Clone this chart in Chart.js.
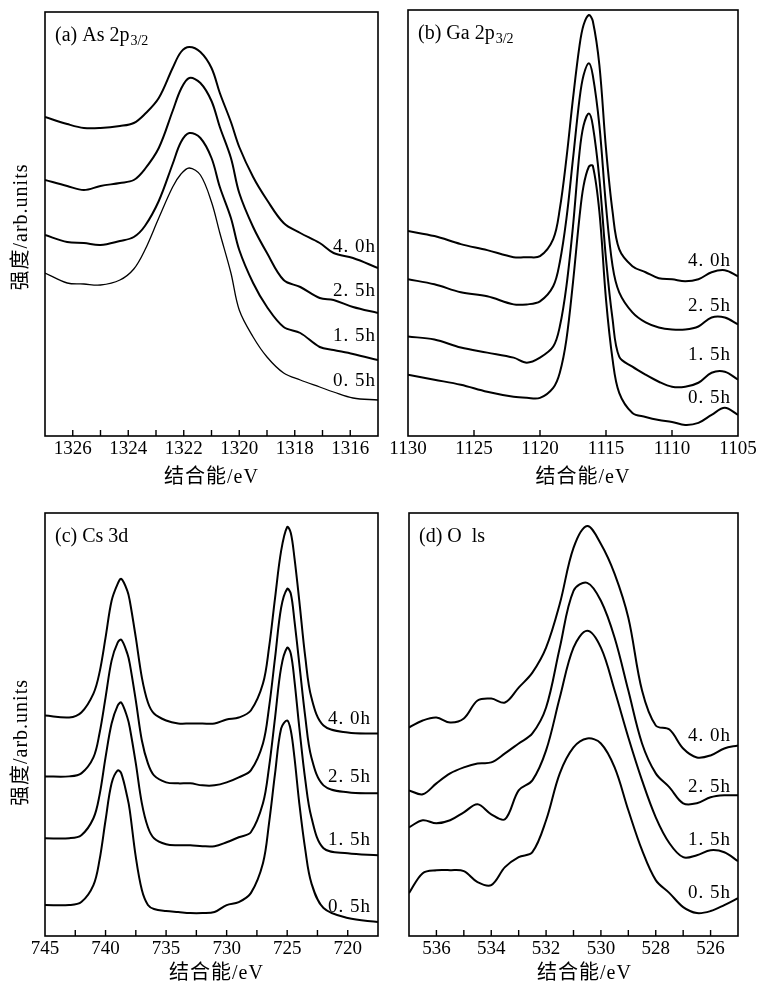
<!DOCTYPE html>
<html>
<head>
<meta charset="utf-8">
<title>XPS spectra</title>
<script src="https://cdn.jsdelivr.net/npm/chart.js@4.4.1/dist/chart.umd.min.js"></script>
<style>
  body { margin: 0; background: #fff; }
  #wrap { position: relative; width: 763px; height: 991px; }
  #wrap canvas { position: absolute; }
</style>
</head>
<body>
<div id="wrap">
  <canvas id="chart-a" width="385" height="490" style="left:0;top:0"></canvas>
  <canvas id="chart-b" width="378" height="490" style="left:385px;top:0"></canvas>
  <canvas id="chart-c" width="385" height="501" style="left:0;top:490px"></canvas>
  <canvas id="chart-d" width="378" height="501" style="left:385px;top:490px"></canvas>
</div>
<script>
// sputtering times, top curve first
const times = ["4. 0h", "2. 5h", "1. 5h", "0. 5h"];

// (a) As 2p3/2 -- intensity in arb. units
const asEnergy = [1327, 1326.2, 1325.6, 1325.0, 1324.3, 1323.8, 1323.4, 1322.9, 1322.4, 1322.1, 1321.8, 1321.4,
                  1321.0, 1320.7, 1320.3, 1320.0, 1319.5, 1319.0, 1318.4, 1317.8, 1317.1, 1316.6, 1315.9, 1315.0];
const as40 = [319, 312, 308, 308, 310, 313, 322, 338, 368, 384, 389, 384, 368, 343, 314, 289, 259, 236, 213, 203, 193, 183, 178, 168];
const as25 = [256, 250, 246, 250, 253, 256, 267, 288, 325, 347, 358, 353, 335, 309, 278, 243, 209, 183, 156, 149, 138, 136, 129, 123];
const as15 = [201, 194, 193, 191, 195, 199, 210, 235, 272, 294, 303, 298, 278, 249, 218, 186, 153, 129, 109, 103, 89, 86, 82, 76];
const as05 = [163, 153, 152, 151, 156, 167, 186, 218, 249, 262, 268, 261, 234, 203, 163, 126, 99, 79, 63, 56, 49, 44, 38, 36];
const asTicks = [1326, 1324, 1322, 1320, 1318, 1316];
const asMarks = [1326, 1325, 1324, 1323, 1322, 1321, 1320, 1319, 1318, 1317, 1316];
const asLabelY = [189, 145, 100, 55];

// (b) Ga 2p3/2
const gaEnergy = [1130, 1128, 1126, 1124, 1122, 1121, 1120, 1119, 1118.5, 1118, 1117.5, 1117, 1116.7, 1116.3,
                  1116, 1115.5, 1115, 1114.5, 1114, 1113, 1112, 1111, 1110, 1109, 1108, 1107, 1106, 1105];
const ga40 = [204, 199, 191, 185, 178, 178, 179, 196, 226, 276, 336, 389, 409, 419, 413, 369, 286, 223, 186, 169, 163, 157, 156, 154, 156, 163, 165, 159];
const ga25 = [156, 151, 143, 139, 131, 131, 134, 149, 173, 216, 276, 336, 359, 371, 359, 309, 229, 169, 143, 123, 113, 108, 106, 106, 109, 118, 118, 111];
const ga15 = [99, 96, 88, 83, 78, 73, 78, 89, 109, 149, 209, 283, 309, 321, 309, 256, 176, 116, 79, 69, 61, 54, 49, 49, 53, 63, 64, 56];
const ga05 = [61, 56, 51, 44, 39, 38, 38, 48, 63, 96, 153, 219, 249, 268, 269, 223, 136, 76, 43, 23, 19, 16, 14, 11, 13, 21, 28, 21];
const gaTicks = [1130, 1125, 1120, 1115, 1110, 1105];
const gaMarks = [1125, 1120, 1115, 1110];
const gaLabelY = [174, 129, 81, 38];

// (c) Cs 3d
const csEnergy = [745, 743, 742, 741, 740.5, 740, 739.5, 739, 738.7, 738.2, 738, 737.5, 737, 736.5, 736, 735, 734, 733,
                  732, 731, 730, 729, 728, 727, 726.5, 726, 725.5, 725, 724.7, 724.4, 724, 723.5, 723, 722, 720, 717.5];
const cs40 = [221, 219, 224, 243, 264, 299, 336, 353, 358, 346, 336, 299, 259, 234, 223, 216, 213, 213,
              213, 213, 217, 219, 226, 253, 289, 339, 386, 410, 404, 379, 336, 279, 239, 211, 204, 203];
const cs25 = [160, 160, 163, 179, 203, 239, 276, 294, 297, 283, 273, 236, 196, 173, 161, 154, 153, 153,
              151, 151, 154, 159, 166, 193, 229, 279, 329, 348, 343, 316, 273, 219, 179, 151, 144, 143];
const cs15 = [98, 98, 101, 118, 141, 179, 213, 231, 234, 219, 209, 173, 133, 109, 98, 92, 91, 91,
              90, 90, 94, 99, 104, 133, 169, 219, 269, 289, 283, 256, 209, 156, 119, 88, 83, 81];
const cs05 = [31, 31, 34, 51, 76, 116, 153, 166, 163, 139, 126, 79, 46, 31, 27, 25, 24, 23,
              23, 24, 31, 34, 43, 73, 113, 163, 208, 216, 206, 179, 133, 86, 53, 28, 18, 14];
const csTicks = [745, 740, 735, 730, 725, 720];
const csMarks = [742.5, 740, 737.5, 735, 732.5, 730, 727.5, 725, 722.5, 720];
const csLabelY = [217, 159, 96, 29];

// (d) O 1s
const oEnergy = [537, 536.5, 536, 535.5, 535, 534.5, 534, 533.5, 533, 532.5, 532, 531.5, 531,
                 530.5, 530, 529.5, 529, 528.5, 528, 527.5, 527, 526.5, 526, 525.5, 525];
const o40 = [209, 216, 219, 214, 218, 236, 238, 234, 249, 264, 289, 333, 389, 411, 393, 363, 319, 246, 211, 207, 188, 179, 181, 188, 191];
const o25 = [146, 142, 153, 163, 169, 173, 174, 183, 193, 203, 229, 289, 346, 354, 336, 299, 246, 193, 163, 149, 133, 133, 139, 141, 141];
const o15 = [109, 116, 113, 116, 124, 132, 122, 117, 146, 156, 186, 239, 289, 306, 289, 246, 199, 156, 119, 93, 79, 81, 86, 84, 75];
const o05 = [43, 63, 66, 66, 65, 54, 51, 69, 79, 84, 116, 163, 189, 198, 193, 169, 126, 86, 56, 43, 29, 23, 25, 31, 38];
const oTicks = [536, 534, 532, 530, 528, 526];
const oMarks = [536, 535, 534, 533, 532, 531, 530, 529, 528, 527, 526];
const oLabelY = [200, 149, 96, 43];

const SERIF = '"Liberation Serif", "Noto Sans CJK SC", serif';

// frame, inward ticks and all the text that is not a tick label
const decor = {
  id: "decor",
  afterDatasetsDraw(chart, args, opts) {
    const { ctx, chartArea: a, scales: { x, y } } = chart;
    ctx.save();
    ctx.strokeStyle = "#000";
    ctx.lineWidth = 1.6;
    ctx.strokeRect(a.left, a.top, a.right - a.left, a.bottom - a.top);

    ctx.lineWidth = 1.4;
    ctx.beginPath();
    opts.marks.forEach(v => {
      const px = x.getPixelForValue(v);
      ctx.moveTo(px, a.bottom);
      ctx.lineTo(px, a.bottom - 6);
    });
    ctx.stroke();

    ctx.fillStyle = "#000";
    ctx.textAlign = "left";
    ctx.textBaseline = "alphabetic";
    ctx.font = "20px " + SERIF;
    ctx.fillText(opts.title, a.left + 10, a.top + 29);
    if (opts.sub) {
      const w = ctx.measureText(opts.title).width;
      ctx.font = "14px " + SERIF;
      ctx.fillText(opts.sub, a.left + 10 + w + 1, a.top + 33);
    }

    ctx.font = "19px " + SERIF;
    ctx.letterSpacing = "1px";
    ctx.textAlign = "right";
    ctx.textBaseline = "middle";
    times.forEach((t, i) => {
      ctx.fillText(t, a.right - opts.labelInset, y.getPixelForValue(opts.labelY[i]));
    });

    // axis titles
    ctx.font = "20px " + SERIF;
    ctx.letterSpacing = "1px";
    ctx.textAlign = "center";
    ctx.fillText("结合能/eV", (a.left + a.right) / 2 + opts.xTitleShift, chart.height - opts.xTitleLift);
    if (opts.yTitle) {
      ctx.translate(22, (a.top + a.bottom) / 2 + opts.yTitleShift);
      ctx.rotate(-Math.PI / 2);
      ctx.fillText("强度/arb.units", 0, 0);
    }
    ctx.restore();
  }
};

function buildPanel(id, cfg) {
  const ctx = document.getElementById(id).getContext("2d");
  new Chart(ctx, {
    type: "line",
    data: {
      datasets: cfg.series.map((s, i) => ({
        data: cfg.energy.map((e, j) => ({ x: e, y: s[j] })),
        borderColor: "#000",
        borderWidth: cfg.widths[i],
        pointRadius: 0,
        tension: 0.35,
        fill: false
      }))
    },
    options: {
      responsive: false,
      devicePixelRatio: 1,
      animation: false,
      layout: { padding: cfg.padding },
      plugins: {
        legend: { display: false },
        tooltip: { enabled: false },
        decor: cfg.decor
      },
      scales: {
        x: {
          type: "linear",
          reverse: true,
          min: cfg.min,
          max: cfg.max,
          afterBuildTicks: s => { s.ticks = cfg.ticks.map(v => ({ value: v })); },
          afterFit: s => { s.height = cfg.xHeight; },
          grid: { display: false, drawTicks: false },
          border: { display: false },
          ticks: {
            autoSkip: false,
            maxRotation: 0,
            padding: 2,
            color: "#000",
            font: { family: SERIF, size: 19 },
            callback: v => String(v)
          }
        },
        y: {
          min: 0,
          max: 424,
          afterFit: s => { s.width = cfg.yWidth; },
          grid: { display: false, drawTicks: false },
          border: { display: false },
          ticks: { display: false }
        }
      }
    },
    plugins: [decor]
  });
}

buildPanel("chart-a", {
  energy: asEnergy, series: [as40, as25, as15, as05], widths: [2, 2, 2, 1.3],
  min: 1315, max: 1327, ticks: asTicks,
  padding: { top: 12, right: 7, bottom: 0, left: 0 }, yWidth: 45, xHeight: 54,
  decor: { title: "(a) As 2p", sub: "3/2", marks: asMarks, labelY: asLabelY, labelInset: 2,
           xTitleShift: 0, xTitleLift: 12, yTitle: true, yTitleShift: 3 }
});

buildPanel("chart-b", {
  energy: gaEnergy, series: [ga40, ga25, ga15, ga05], widths: [2, 2, 2, 2],
  min: 1105, max: 1130, ticks: gaTicks,
  padding: { top: 10, right: 25, bottom: 0, left: 0 }, yWidth: 23, xHeight: 54,
  decor: { title: "(b) Ga 2p", sub: "3/2", marks: gaMarks, labelY: gaLabelY, labelInset: 7,
           xTitleShift: 10, xTitleLift: 12, yTitle: false, yTitleShift: 0 }
});

buildPanel("chart-c", {
  energy: csEnergy, series: [cs40, cs25, cs15, cs05], widths: [2, 2, 2, 2],
  min: 717.5, max: 745, ticks: csTicks,
  padding: { top: 23, right: 7, bottom: 0, left: 0 }, yWidth: 45, xHeight: 55,
  decor: { title: "(c) Cs 3d", sub: "", marks: csMarks, labelY: csLabelY, labelInset: 7,
           xTitleShift: 5, xTitleLift: 17, yTitle: true, yTitleShift: 18 }
});

buildPanel("chart-d", {
  energy: oEnergy, series: [o40, o25, o15, o05], widths: [2, 2, 2, 2],
  min: 525, max: 537, ticks: oTicks,
  padding: { top: 23, right: 25, bottom: 0, left: 0 }, yWidth: 24, xHeight: 55,
  decor: { title: "(d) O  ls", sub: "", marks: oMarks, labelY: oLabelY, labelInset: 7,
           xTitleShift: 11, xTitleLift: 17, yTitle: false, yTitleShift: 0 }
});
</script>
</body>
</html>
